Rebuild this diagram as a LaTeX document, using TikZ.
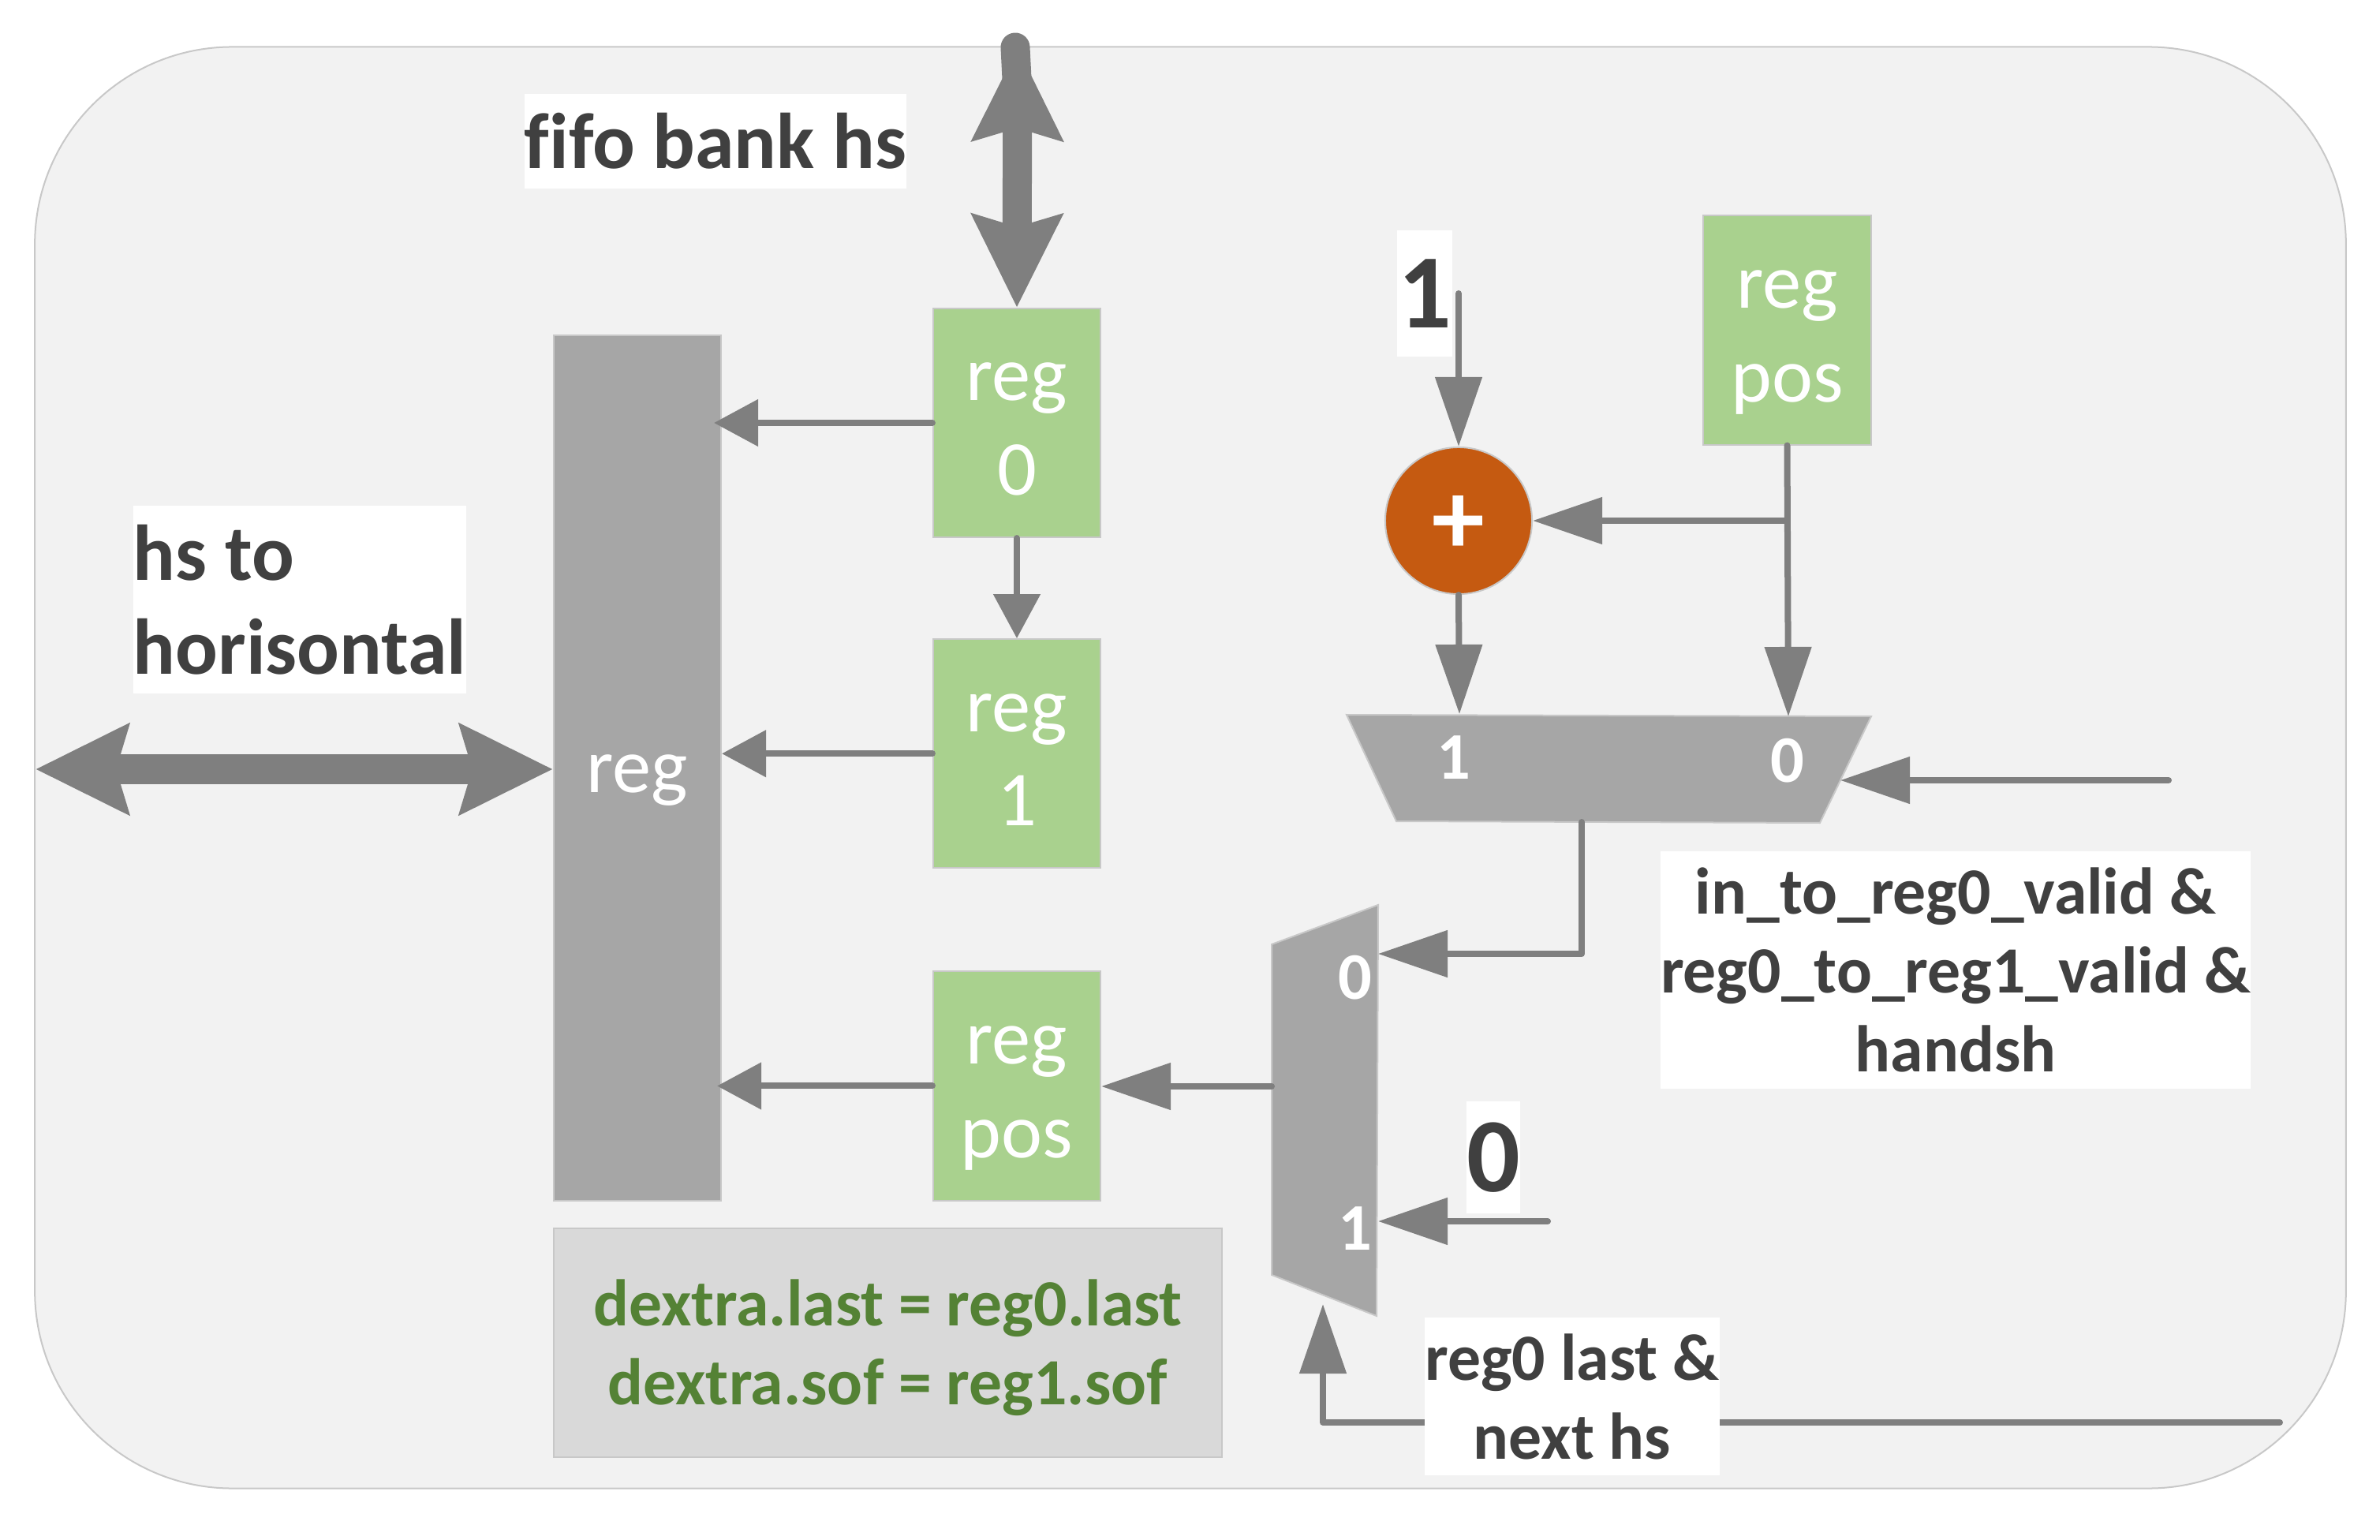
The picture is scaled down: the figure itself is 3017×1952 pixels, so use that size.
\documentclass[tikz,border=0pt]{standalone}
\usepackage{fontspec}
\setmainfont{Carlito}[Ligatures=NoCommon]
\usetikzlibrary{positioning,arrows.meta}
\definecolor{bgfill}{HTML}{F2F2F2}
\definecolor{edgegray}{HTML}{C8C8C8}
\definecolor{blockgray}{HTML}{A6A6A6}
\definecolor{notegray}{HTML}{D9D9D9}
\definecolor{arrowgray}{HTML}{7F7F7F}
\definecolor{reggreen}{HTML}{A9D18E}
\definecolor{notegreen}{HTML}{548235}
\definecolor{addorange}{HTML}{C55A11}
\definecolor{labeltext}{HTML}{404040}
\tikzset{
  regbox/.style={draw=edgegray,line width=0.02cm,fill=reggreen,text=white,align=center,
    minimum width=2.12cm,minimum height=2.9cm,inner sep=0pt,text height=2.36cm,text depth=0.54cm,
    font=\fontsize{28}{33.9}\selectfont},
  muxshape/.style={draw=edgegray,line width=0.02cm,fill=blockgray},
  muxdigit/.style={text=white,inner sep=0pt,font=\fontsize{24}{29}\selectfont\bfseries},
  whitelabel/.style={fill=white,text=labeltext,align=center,inner sep=0pt,
    font=\fontsize{28.5}{33.9}\selectfont\bfseries},
  smalllabel/.style={fill=white,text=labeltext,align=center,inner sep=0pt,
    font=\fontsize{23.8}{28.4}\selectfont\bfseries},
  bigdigit/.style={fill=white,text=labeltext,inner sep=0pt,
    font=\fontsize{38}{46}\selectfont\bfseries},
  sigline/.style={draw=arrowgray,line width=0.08cm,line cap=round,line join=round,
    -{Triangle[length=0.88cm,width=0.58cm]}},
  smallsig/.style={draw=arrowgray,line width=0.08cm,line cap=round,
    -{Triangle[length=0.56cm,width=0.58cm]}},
  busline/.style={draw=arrowgray,line width=0.37cm,
    {Stealth[length=1.17cm,width=1.12cm,inset=0.15cm]}-{Stealth[length=1.17cm,width=1.12cm,inset=0.15cm]}},
}
\begin{document}
\begin{tikzpicture}[x=0.01cm,y=-0.01cm]
    \useasboundingbox (0,0) rectangle (3017,1952);
    \node[draw=edgegray,line width=0.02cm,fill=bgfill,rounded corners=2.5cm,
      minimum width=29.28cm,minimum height=18.26cm] (bg) at (1509,973) {};

    % registers
    \node[regbox,fill=blockgray,minimum height=10.97cm,text height=5.79cm,text depth=5.18cm] (bigreg) at (808,973.5) {reg};
    \node[regbox] (regzero) at (1289,536) {reg\\0};
    \node[regbox,below=1.27cm of regzero] (regone) {reg\\1};
    \node[regbox,below=1.29cm of regone] (regpos) {reg\\pos};
    \node[regbox] (posin) at (2265.5,418.5) {reg\\pos};
    \node[circle,draw=edgegray,line width=0.02cm,fill=addorange,text=white,minimum size=1.86cm,inner sep=0pt,
      text height=0.95cm,text depth=0.1cm,font=\fontsize{38}{46}\selectfont\bfseries] (plus) at (1849,660) {+};

    % muxes
    \coordinate (muxaport1) at (1850,905);
    \coordinate (muxaport0) at (2267,908);
    \coordinate (muxasel) at (2333,989);
    \coordinate (muxaout) at (2005,1042);
    \coordinate (muxbport0) at (1747,1209);
    \coordinate (muxbport1) at (1747,1548);
    \coordinate (muxbsel) at (1677,1653);
    \coordinate (muxbout) at (1612,1377);
    \draw[muxshape] (1707,906) -- (2372,908) -- (2307,1043) -- (1770,1041) -- cycle;
    \draw[muxshape] (1612,1197) -- (1747,1147) -- (1745,1668) -- (1612,1616) -- cycle;
    \node[muxdigit] (muxaone) at (1843,960) {1};
    \node[muxdigit] (muxazero) at (2266,964) {0};
    \node[muxdigit] (muxbzero) at (1718,1239) {0};
    \node[muxdigit] (muxbone) at (1718,1557) {1};

    % free ends
    \coordinate (fifocap) at (1287,60);
    \coordinate (fifoneck) at (1289,100);
    \coordinate (fifotip) at (1290,60);
    \coordinate (hsend) at (45,975);
    \coordinate (oneout) at (1849,372);
    \coordinate (posjoin) at (2265.5,660);
    \coordinate (validin) at (2749,989);
    \coordinate (zeroout) at (1962,1548);
    \coordinate (muxacorner) at (2005,1209);
    \coordinate (lastin) at (2890,1803);
    \coordinate (lastcorner) at (1677,1803);

    % connectors
    \draw[busline] (fifotip) -- (regzero.north);
    \draw[draw=arrowgray,line width=0.37cm,line cap=round] (fifocap) -- (fifoneck);
    \draw[busline] (hsend) -- (hsend -| bigreg.west);
    \draw[smallsig,shorten >=-0.1cm] (regzero.west) -- (regzero.west -| bigreg.east);
    \draw[smallsig] (regone.west) -- (regone.west -| bigreg.east);
    \draw[smallsig,shorten >=-0.06cm] (regpos.west) -- (regpos.west -| bigreg.east);
    \draw[smallsig] (regzero.south) -- (regone.north);
    \draw[sigline] (oneout) -- (plus.north);
    \draw[sigline] (posjoin) -- (plus.east);
    \draw[sigline] (posin.south) -- (muxaport0);
    \draw[sigline] (plus.south) -- (muxaport1);
    \draw[sigline] (validin) -- (muxasel);
    \draw[sigline] (muxaout) -- (muxacorner) -- (muxbport0);
    \draw[sigline] (zeroout) -- (muxbport1);
    \draw[sigline] (muxbout) -- (muxbout -| regpos.east);
    \draw[sigline] (lastin) -- (lastcorner) -- (muxbsel);

    % labels
    \node[whitelabel,minimum width=4.83cm,minimum height=1.19cm] (fifolabel) at (907,179) {fifo bank hs};
    \node[whitelabel,minimum width=4.22cm,minimum height=2.38cm,align=left] (hslabel) at (380,760) {hs to\\horisontal};
    \node[bigdigit,minimum width=0.69cm,minimum height=1.6cm] (onelabel) at (1806,372) {1};
    \node[bigdigit,minimum width=0.59cm,minimum height=1.42cm] (zerolabel) at (1893,1467) {0};
    \node[smalllabel,minimum width=7.48cm,minimum height=3.01cm] (validlabel) at (2479,1229.5) {in\_to\_reg0\_valid \&\\reg0\_to\_reg1\_valid \&\\handsh};
    \node[smalllabel,minimum width=3.72cm,minimum height=2.0cm] (lastlabel) at (1993,1770) {reg0 last \&\\next hs};
    \node[draw=edgegray,line width=0.02cm,fill=notegray,text=notegreen,align=center,inner sep=0pt,
      minimum width=8.47cm,minimum height=2.9cm,text height=2.23cm,text depth=0.67cm,
      font=\fontsize{23.8}{28.4}\selectfont\bfseries]
      (notebox) at (1125.5,1702) {dextra.last = reg0.last\\dextra.sof = reg1.sof};
\end{tikzpicture}
\end{document}
